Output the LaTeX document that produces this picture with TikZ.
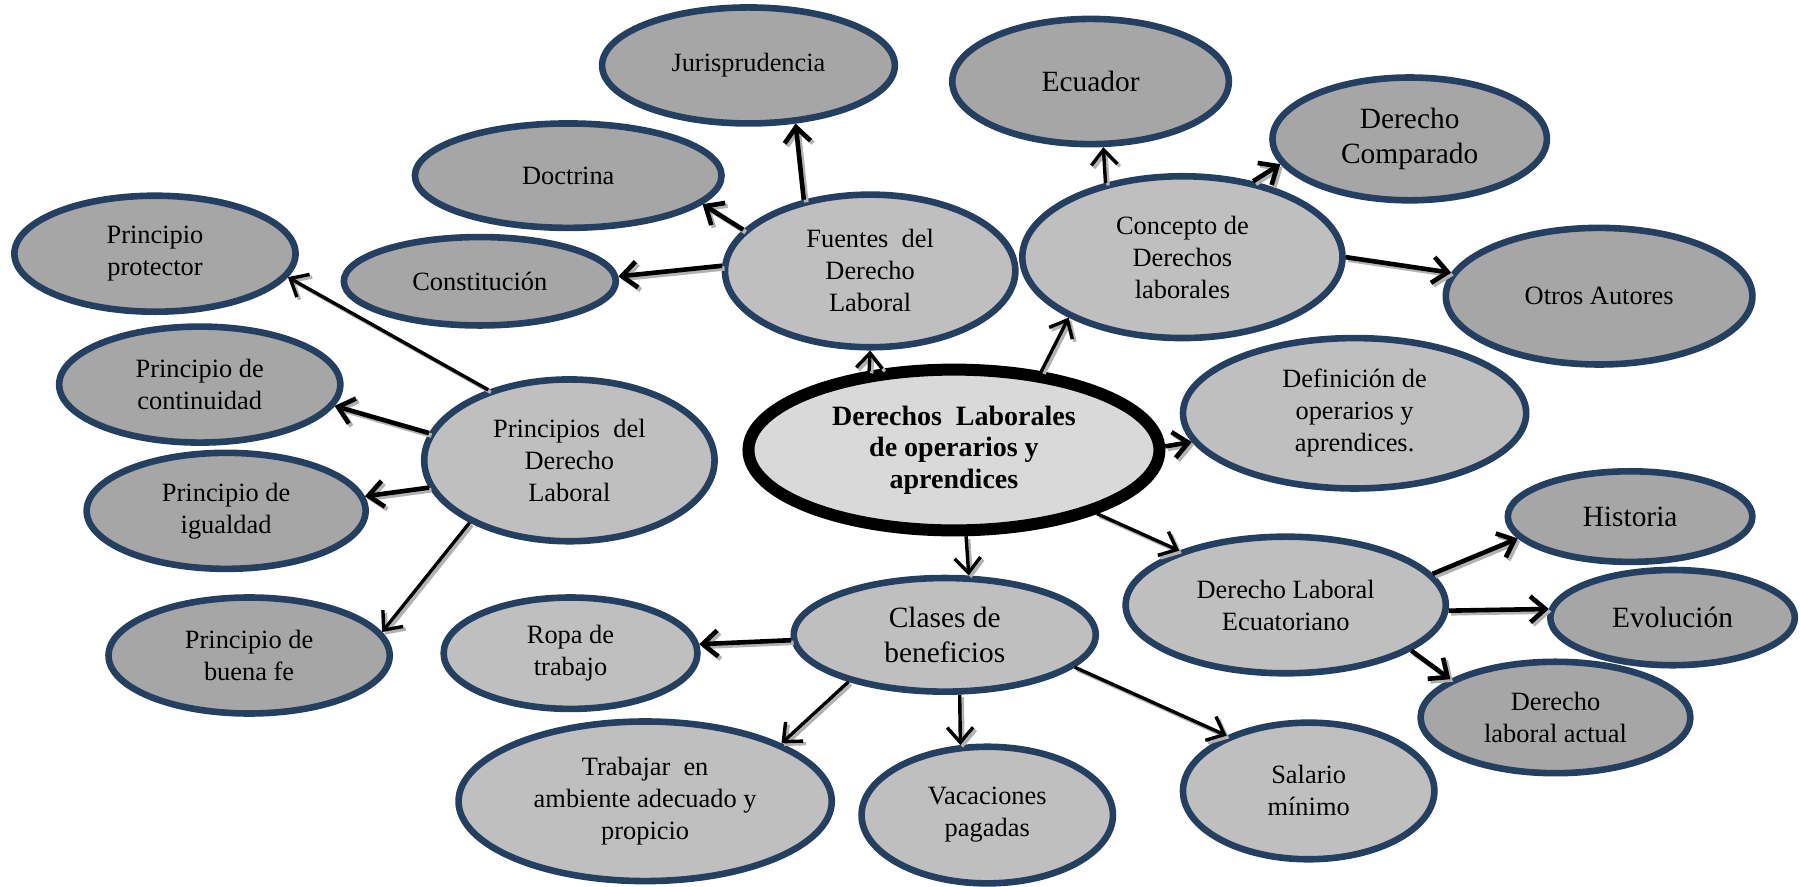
\documentclass[tikz,border=0pt]{standalone}
\usepackage{fontspec}
\setmainfont{Liberation Serif}
\usetikzlibrary{shapes.geometric,arrows.meta}
\definecolor{bord}{HTML}{243F60}
\definecolor{darkg}{HTML}{A6A6A6}
\definecolor{lightg}{HTML}{BFBFBF}
\definecolor{centg}{HTML}{D9D9D9}
\newcommand{\fsA}{\fontsize{13.2}{16}\selectfont}
\newcommand{\fsB}{\fontsize{14.7}{17.5}\selectfont}
\newcommand{\fsC}{\fontsize{14}{15.8}\selectfont\bfseries}
\tikzset{
  base/.style={ellipse, draw=bord, line width=3.3pt, inner sep=0pt, align=center, font=\fsA},
  dark/.style={base, fill=darkg},
  light/.style={base, fill=lightg},
  big/.style={font=\fsB},
  sz/.style 2 args={minimum width=#1pt, minimum height=#2pt},
  tip/.style={-{Straight Barb[length=7.5pt,width=13pt]}},
  arrA/.style={line width=2.3pt, tip,
    preaction={draw=gray!60, line width=2.3pt, tip, transform canvas={shift={(1.3pt,-1.3pt)}}}},
  arrB/.style={line width=1.7pt, tip,
    preaction={draw=gray!60, line width=1.7pt, tip, transform canvas={shift={(1.3pt,-1.3pt)}}}},
}
\begin{document}
\begin{tikzpicture}[x=0.574pt, y=-0.574pt]
\useasboundingbox (0,0) rectangle (1568,772);
% nodes
\node[dark, sz={146.4}{58}] (juris) at (652,57) {Jurisprudencia};
\node[dark, sz={153.3}{52.2}] (doct) at (495,153) {Doctrina};
\node[dark, sz={140.6}{58}] (prot) at (135,221) {Principio\\protector};
\node[dark, sz={136}{44.2}] (const) at (418,245) {Constitución};
\node[light, sz={145.2}{76.3}] (fuentes) at (758,236) {Fuentes~ del\\Derecho\\Laboral};
\node[dark, big, sz={138.3}{62.6}] (ecuador) at (950,71) {Ecuador};
\node[dark, big, sz={137.2}{61.4}] (comp) at (1228,121) {Derecho\\Comparado};
\node[light, sz={160.1}{80.9}] (concepto) at (1030,224) {Concepto de\\Derechos\\laborales};
\node[dark, sz={153.3}{68.3}] (otros) at (1393,258) {Otros Autores};
\node[light, sz={171.6}{75.2}] (defin) at (1180,360) {Definición de\\operarios y\\aprendices.};
\node[ellipse, draw=black, line width=6pt, fill=centg, inner sep=0pt, align=center, font=\fsC, sz={205.5}{80.4}] (central) at (831,392) {Derechos~ Laborales\\de operarios y\\aprendices};
\node[dark, sz={140.6}{58}] (cont) at (174,335) {Principio de\\continuidad};
\node[light, sz={145.2}{80.9}] (princ) at (496,401) {Principios~ del\\Derecho\\Laboral};
\node[dark, sz={139.5}{58}] (igual) at (197,445) {Principio de\\igualdad};
\node[dark, sz={140.6}{58}] (buena) at (217,571) {Principio de\\buena fe};
\node[dark, big, sz={122.3}{45.3}] (historia) at (1420,450) {Historia};
\node[light, sz={160.1}{68.3}] (dle) at (1120,527) {Derecho Laboral\\Ecuatoriano};
\node[dark, big, sz={122.3}{47.6}] (evol) at (1457,538) {Evolución};
\node[light, sz={126.9}{55.7}] (ropa) at (497,569) {Ropa de\\trabajo};
\node[light, big, sz={151}{56.8}] (clases) at (823,553) {Clases de\\beneficios};
\node[dark, sz={134.9}{55.7}] (actual) at (1355,625) {Derecho\\laboral actual};
\node[light, sz={186.6}{79.8}] (trabajar) at (562,698) {Trabajar~ en\\ambiente adecuado y\\propicio};
\node[light, sz={125.7}{68.3}] (vacac) at (860,710) {Vacaciones\\pagadas};
\node[light, sz={125.7}{68.3}] (salario) at (1140,689) {Salario\\mínimo};
% connectors
\draw[arrA] (fuentes.133.5) -- (juris.309.5);
\draw[arrA] (fuentes.162.7) -- (doct.348.8);
\draw[arrA] (fuentes.178.4) -- (const.2);
\draw[arrB] (central.137.3) -- (fuentes.270);
\draw[arrB] (central.42.2) -- (concepto.208.2);
\draw[arrB] (concepto.136.9) -- (ecuador.281.4);
\draw[arrA] (concepto.47.3) -- (comp.191.6);
\draw[arrA] (concepto.0.8) -- (otros.171.1);
\draw[arrA] (central.1.9) -- (defin.190.4);
\draw[arrB] (central.336.6) -- (dle.153.8);
\draw[arrB] (central.278.9) -- (clases.68.2);
\draw[arrB] (princ.139.6) -- (prot.350.8);
\draw[arrA] (princ.169.8) -- (cont.351.9);
\draw[arrA] (princ.191.2) -- (igual.6.4);
\draw[arrB] (princ.212.3) -- (buena.10.3);
\draw[arrA] (clases.182.9) -- (ropa.4.9);
\draw[arrB] (clases.206.6) -- (trabajar.23);
\draw[arrB] (clases.284.6) -- (vacac.111.1);
\draw[arrB] (clases.346.3) -- (salario.146.3);
\draw[arrA] (dle.12.4) -- (historia.191.8);
\draw[arrA] (dle.358.4) -- (evol.176.9);
\draw[arrA] (dle.340.9) -- (actual.160.5);
\end{tikzpicture}
\end{document}
